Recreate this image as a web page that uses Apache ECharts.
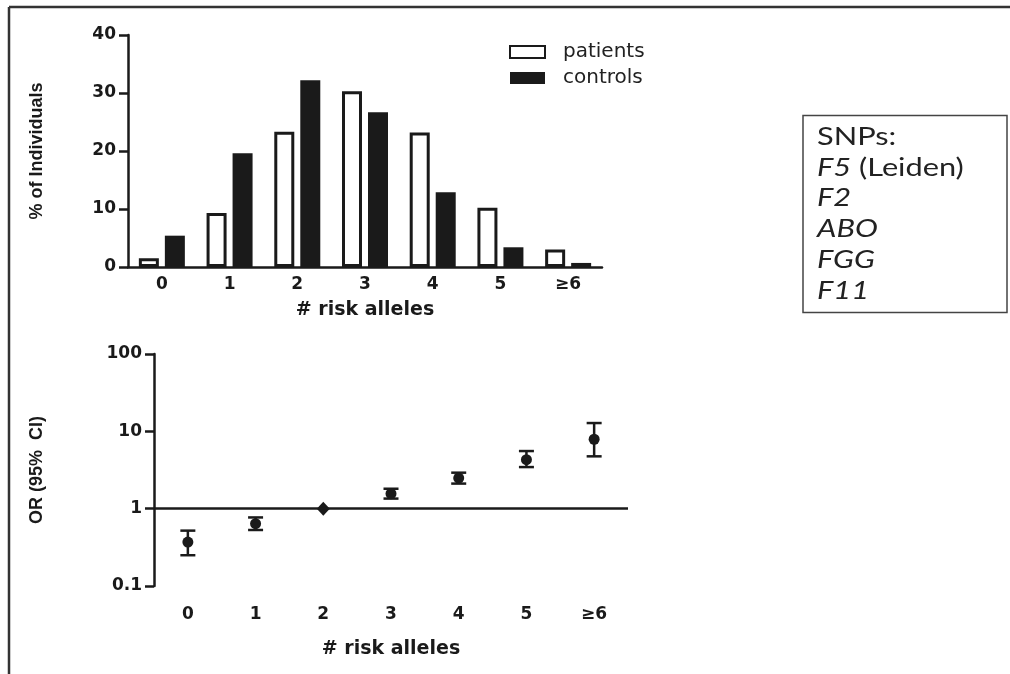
<!DOCTYPE html>
<html>
<head>
<meta charset="utf-8">
<script src="https://cdn.jsdelivr.net/npm/echarts@6/dist/echarts.min.js"></script>
<style>
html,body{margin:0;padding:0;background:#fff;}
#chart{width:1010px;height:674px;}
</style>
</head>
<body>
<div id="chart"></div>
<script>
// ---- data ----
const categories = ['0', '1', '2', '3', '4', '5', '≥6'];
const patients = [1.5, 9.3, 23.3, 30.3, 23.2, 10.2, 3.0];
const controls = [5.4, 19.6, 32.2, 26.7, 12.9, 3.4, 0.7];
const orValues = [0.37, 0.64, 1, 1.56, 2.49, 4.3, 7.9];
const ciLower = [0.25, 0.53, null, 1.35, 2.11, 3.45, 4.75];
const ciUpper = [0.52, 0.77, null, 1.81, 2.92, 5.56, 12.8];
const snpLines = ['SNPs:', '{i|F5} (Leiden)', '{i|F2}', '{i|ABO}', '{i|FGG}', '{i|F11}'];

const FONT = '"DejaVu Sans", Verdana, sans-serif';
const YFONT = '"Liberation Sans", Arial, sans-serif';
const BLK = '#1a1a1a';

const chart = echarts.init(document.getElementById('chart'));

const errData = categories.map((c, i) => ciLower[i] == null ? null : [i, ciLower[i], ciUpper[i]]).filter(d => d);
const orData = orValues.map((v, i) => i === 2 ? {value: [i, v], symbol: 'diamond', symbolSize: [13, 14]} : [i, v]);

const axisLabelStyle = {color: BLK, fontFamily: FONT, fontWeight: 'bold', fontSize: 17};
const axisNameStyle = {color: BLK, fontFamily: FONT, fontWeight: 'bold', fontSize: 19};
const yNameStyle = {color: BLK, fontFamily: YFONT, fontWeight: 'bold', fontSize: 18};

const SNP_FONT = 'Lato, "Open Sans", sans-serif';
const snpGraphics = snpLines.map((t, k) => ({
  type: 'text',
  x: 817,
  y: 124.5 + k * 30.7,
  scaleX: 1.23,
  style: {
    text: t,
    fontFamily: SNP_FONT,
    fontSize: 25,
    fill: '#222',
    rich: {
      i: {fontFamily: SNP_FONT, fontSize: 25, fontStyle: 'italic', fill: '#222'}
    }
  }
}));

chart.setOption({
  animation: false,
  backgroundColor: '#fff',
  legend: {
    left: 504,
    top: 37,
    orient: 'vertical',
    itemWidth: 35,
    itemHeight: 12,
    itemGap: 6,
    icon: 'rect',
    textStyle: {fontFamily: FONT, fontSize: 20, color: '#222', padding: [0, 0, 0, 13]},
    data: ['patients', 'controls']
  },
  grid: [
    {left: 128, right: 408, top: 35, height: 232},
    {left: 154, right: 382, top: 354, height: 232}
  ],
  xAxis: [
    {
      type: 'category', gridIndex: 0, data: categories,
      axisLine: {lineStyle: {color: BLK, width: 2.5}},
      axisTick: {alignWithLabel: true, length: 5, lineStyle: {color: BLK, width: 2.5}},
      axisLabel: Object.assign({margin: 9}, axisLabelStyle),
      name: '# risk alleles', nameLocation: 'middle', nameGap: 34, nameTextStyle: axisNameStyle
    },
    {
      type: 'category', gridIndex: 1, data: categories,
      axisLine: {show: false},
      axisTick: {show: false},
      axisLabel: Object.assign({margin: 20}, axisLabelStyle),
      name: '# risk alleles', nameLocation: 'middle', nameGap: 54, nameTextStyle: axisNameStyle
    }
  ],
  yAxis: [
    {
      type: 'value', gridIndex: 0, min: 0, max: 40, interval: 10,
      splitLine: {show: false},
      axisLine: {show: true, lineStyle: {color: BLK, width: 2.5}},
      axisTick: {show: true, length: 9, lineStyle: {color: BLK, width: 2.5}},
      axisLabel: Object.assign({margin: 12}, axisLabelStyle),
      name: '% of Individuals', nameLocation: 'middle', nameGap: 82, nameRotate: 90,
      nameTextStyle: yNameStyle
    },
    {
      type: 'log', gridIndex: 1, min: 0.1, max: 100, logBase: 10,
      splitLine: {show: false},
      minorTick: {show: false},
      axisLine: {show: true, lineStyle: {color: BLK, width: 2.5}},
      axisTick: {show: true, length: 9, lineStyle: {color: BLK, width: 2.5}},
      axisLabel: Object.assign({margin: 12, formatter: v => String(+v.toPrecision(3))}, axisLabelStyle),
      name: 'OR (95%  CI)', nameLocation: 'middle', nameGap: 108, nameRotate: 90,
      nameTextStyle: yNameStyle
    }
  ],
  series: [
    {
      name: 'patients', type: 'bar', xAxisIndex: 0, yAxisIndex: 0, data: patients,
      barWidth: 20, barGap: '30%',
      itemStyle: {color: '#fff', borderColor: BLK, borderWidth: 3}
    },
    {
      name: 'controls', type: 'bar', xAxisIndex: 0, yAxisIndex: 0, data: controls,
      barWidth: 20,
      itemStyle: {color: BLK, borderWidth: 0}
    },
    {
      name: 'ci', type: 'custom', xAxisIndex: 1, yAxisIndex: 1, data: errData,
      renderItem: function (params, api) {
        const lo = api.coord([api.value(0), api.value(1)]);
        const hi = api.coord([api.value(0), api.value(2)]);
        const hw = 7.5;
        const st = {stroke: BLK, lineWidth: 2.5};
        return {
          type: 'group',
          children: [
            {type: 'line', shape: {x1: lo[0], y1: lo[1], x2: hi[0], y2: hi[1]}, style: st},
            {type: 'line', shape: {x1: lo[0] - hw, y1: lo[1], x2: lo[0] + hw, y2: lo[1]}, style: st},
            {type: 'line', shape: {x1: hi[0] - hw, y1: hi[1], x2: hi[0] + hw, y2: hi[1]}, style: st}
          ]
        };
      },
      z: 3
    },
    {
      name: 'OR', type: 'scatter', xAxisIndex: 1, yAxisIndex: 1, data: orData,
      symbol: 'circle', symbolSize: 11,
      itemStyle: {color: BLK, opacity: 1},
      z: 4,
      markLine: {
        silent: true, symbol: ['none', 'none'],
        label: {show: false},
        lineStyle: {color: BLK, width: 2.5, type: 'solid', opacity: 1},
        data: [{yAxis: 1}]
      }
    }
  ],
  graphic: [
    {type: 'line', shape: {x1: 9, y1: 7, x2: 1010, y2: 7}, style: {stroke: '#333', lineWidth: 2.5}},
    {type: 'line', shape: {x1: 9, y1: 7, x2: 9, y2: 674}, style: {stroke: '#333', lineWidth: 2.5}},
    {type: 'rect', shape: {x: 803, y: 115.5, width: 204, height: 197}, style: {fill: 'none', stroke: '#444', lineWidth: 1.5}}
  ].concat(snpGraphics)
});
</script>
</body>
</html>
